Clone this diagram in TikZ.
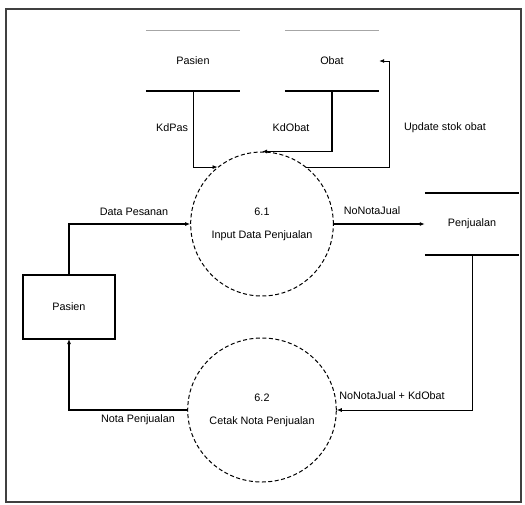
\documentclass[tikz,border=0pt]{standalone}
\usepackage{fontspec}
\setmainfont{Liberation Sans}
\usetikzlibrary{shapes.geometric,arrows.meta,calc}
\begin{document}
\begin{tikzpicture}[x=1pt,y=-1pt,
  txt/.style={font=\fontsize{10.8}{12}\selectfont, inner sep=0pt},
  proc/.style={draw, dash pattern=on 4pt off 2.5pt, line width=1pt, ellipse, minimum width=108pt, minimum height=144pt, inner sep=0pt, align=center, font=\fontsize{10.8}{23}\selectfont},
  store/.style={minimum width=94pt, minimum height=60pt, inner sep=0pt, font=\fontsize{10.8}{12}\selectfont},
  sline/.style={line width=1.8pt},
  flow/.style={line width=1.3pt, -{Latex[length=5pt,width=4pt]}},
  thinflow/.style={line width=0.8pt, -{Latex[length=5pt,width=4pt]}},
  entity/.style={draw, line width=1.1pt, minimum width=92pt, minimum height=63pt, inner sep=0pt, font=\fontsize{10.8}{12}\selectfont}
]
\useasboundingbox (0,0) rectangle (525,504);
\draw[line width=1.6pt, black!75] (6,9) rectangle (521,502);

% data stores
\node[store] (ps) at (193,61) {Pasien};
\draw[line width=1pt, black!35] (ps.north west) -- (ps.north east);
\draw[sline] (ps.south west) -- (ps.south east);
\node[store] (os) at (332,61) {Obat};
\draw[line width=1pt, black!35] (os.north west) -- (os.north east);
\draw[sline] (os.south west) -- (os.south east);
\node[store, minimum height=62pt] (pj) at (472,224) {Penjualan};
\draw[sline] (pj.north west) -- (pj.north east);
\draw[sline] (pj.south west) -- (pj.south east);

% entity
\node[entity] (pas) at (69,307) {Pasien};
\draw[sline] (pas.north west) -- (pas.north east);
\draw[sline] (pas.south west) -- (pas.south east);

% processes
\node[proc] (p1) at (262,224) {6.1\\Input Data Penjualan};
\node[proc] (p2) at (262,410) {6.2\\Cetak Nota Penjualan};

% flows
\draw[flow] (pas.north) |- (p1.west);
\draw[flow] (p1.east) -- (pj.west);
\draw[thinflow] (ps.south) |- (p1.128);
\draw[flow] (os.south) |- (p1.north);
\coordinate (upd) at (389,61);
\draw[thinflow] (p1.52) -| (upd) -- (os.east);
\draw[thinflow] (pj.south) |- (p2.east);
\draw[flow] (p2.west) -| (pas.south);

% labels
\node[txt] (l1) at (134,212) {Data Pesanan};
\node[txt] (l2) at (372,211) {NoNotaJual};
\node[txt] (l3) at (172,128) {KdPas};
\node[txt] (l4) at (291,128) {KdObat};
\node[txt] (l5) at (445,128) {Update stok obat};
\node[txt] (l6) at (392,396) {NoNotaJual + KdObat};
\node[txt] (l7) at (138,420) {Nota Penjualan};
\end{tikzpicture}
\end{document}
